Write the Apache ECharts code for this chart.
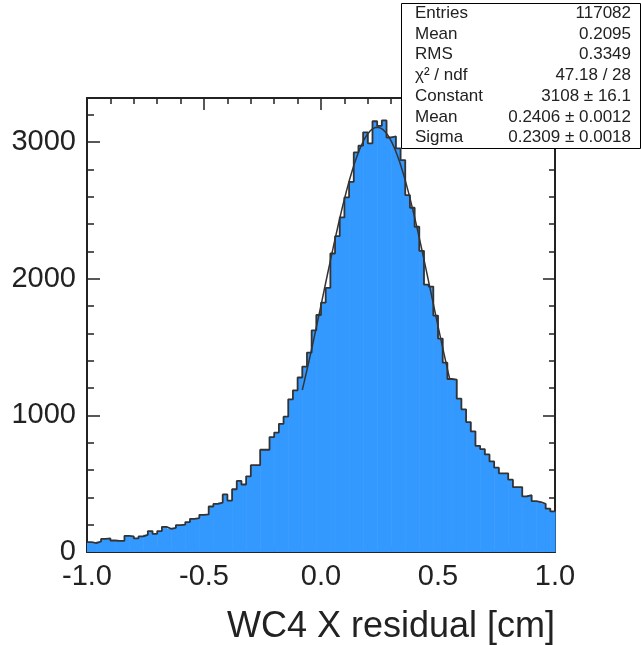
<!DOCTYPE html>
<html><head><meta charset="utf-8">
<script src="https://cdn.jsdelivr.net/npm/echarts@6/dist/echarts.min.js"></script>
<style>html,body{margin:0;padding:0;background:#fff}#c{width:641px;height:645px}</style>
</head><body><div id="c"></div>
<script>
// ---- data ----
const xMin = -1.0, xMax = 1.0, nBins = 100;
const counts = [
  72, 65, 77, 96, 99, 84, 82, 82, 118, 114,
  99, 114, 126, 153, 133, 153, 184, 170, 177, 197,
  201, 219, 243, 248, 272, 275, 333, 352, 362, 421,
  376, 459, 520, 494, 554, 635, 635, 748, 748, 841,
  874, 938, 990, 1117, 1183, 1277, 1357, 1459, 1622, 1734,
  1824, 1933, 2184, 2311, 2448, 2595, 2709, 2924, 2973, 3071,
  2990, 3152, 3118, 3158, 3033, 3042, 2953, 2868, 2612, 2519,
  2380, 2204, 1957, 1942, 1730, 1562, 1385, 1266, 1262, 1122,
  1044, 951, 883, 777, 753, 714, 663, 617, 576, 576,
  529, 475, 475, 407, 416, 372, 365, 353, 317, 297
];
const xTickLabels = ["-1.0", "-0.5", "0.0", "0.5", "1.0"];
const yTickLabels = ["0", "1000", "2000", "3000"];
const statsLabels = ["Entries", "Mean", "RMS", "\u03C7\u00B2 / ndf", "Constant", "Mean", "Sigma"];
const statsValues = ["117082", "0.2095", "0.3349", "47.18 / 28", "3108 \u00B1 16.1", "0.2406 \u00B1 0.0012", "0.2309 \u00B1 0.0018"];
const fitConstant = 3108, fitMean = 0.2406, fitSigma = 0.2309;
const fitRange = [-0.08, 0.55];
const yMax = 3322;
const xTitle = "WC4 X residual [cm]";

// ---- derived ----
const binW = (xMax - xMin) / nBins;
const bins = counts.map((c, i) => [xMin + i * binW, xMin + (i + 1) * binW, c]);
const outline = counts.map((c, i) => [xMin + i * binW, c]);
outline.push([xMax, counts[counts.length - 1]]);
const fit = [];
const nFit = 200;
for (let k = 0; k <= nFit; k++) {
  const x = fitRange[0] + (fitRange[1] - fitRange[0]) * k / nFit;
  fit.push([x, fitConstant * Math.exp(-0.5 * Math.pow((x - fitMean) / fitSigma, 2))]);
}

const ink = '#222';
const FONT = '"Liberation Sans", Arial, Helvetica, sans-serif';
const frameLine = { show: true, onZero: false, lineStyle: { color: ink, width: 2 } };
const noLine = { show: false, onZero: false };

function xAx(pos, labels) {
  return {
    type: 'value', position: pos, min: xMin, max: xMax, interval: 0.5,
    axisLine: frameLine,
    axisTick: { show: true, inside: true, length: 12, lineStyle: { color: ink, width: 1.5 } },
    minorTick: { show: true, splitNumber: 5, length: 6, lineStyle: { color: ink, width: 1.5 } },
    splitLine: { show: false },
    axisLabel: labels ? {
      show: true, margin: 10, fontSize: 29, color: ink, fontFamily: FONT,
      formatter: v => { const i = Math.round((v - xMin) / 0.5); return xTickLabels[i] ?? ''; }
    } : { show: false }
  };
}
function yAx(pos, interval, len, labels, line) {
  return {
    type: 'value', position: pos, min: 0, max: yMax, interval: interval,
    axisLine: line ? frameLine : noLine,
    axisTick: { show: true, inside: true, length: len, lineStyle: { color: ink, width: 1.5 } },
    splitLine: { show: false },
    axisLabel: labels ? {
      show: true, margin: 11, fontSize: 29, color: ink, fontFamily: FONT,
      formatter: v => { const i = Math.round(v / 1000); return (Math.abs(v - i * 1000) < 1e-6 && yTickLabels[i] !== undefined) ? yTickLabels[i] : ''; }
    } : { show: false }
  };
}

const chart = echarts.init(document.getElementById('c'), null, { renderer: 'canvas' });
const statsTop = 3, statsH = 145, lineH = statsH / statsLabels.length;
const graphics = [
  { type: 'rect', z: 100, shape: { x: 401.5, y: statsTop + 0.5, width: 239, height: statsH },
    style: { fill: '#fff', stroke: '#000', lineWidth: 1 } }
];
statsLabels.forEach((t, i) => {
  const cy = statsTop + lineH * (i + 0.5);
  graphics.push({ type: 'text', z: 101, x: 415, y: cy,
    style: { text: t, font: '17px ' + FONT, fill: ink, textAlign: 'left', textVerticalAlign: 'middle' } });
  graphics.push({ type: 'text', z: 101, x: 631, y: cy,
    style: { text: statsValues[i], font: '17px ' + FONT, fill: ink, textAlign: 'right', textVerticalAlign: 'middle' } });
});
graphics.push({ type: 'text', z: 101, x: 555, y: 627,
  style: { text: xTitle, font: '36px ' + FONT, fill: ink, textAlign: 'right', textVerticalAlign: 'middle' } });

chart.setOption({
  animation: false,
  backgroundColor: '#fff',
  grid: { left: 87, right: 86, top: 98, bottom: 93, containLabel: false, outerBoundsMode: 'none' },
  xAxis: [xAx('bottom', true), xAx('top', false)],
  yAxis: [
    yAx('left', 1000, 13, true, true),
    yAx('left', 200, 7, false, false),
    yAx('right', 1000, 12, false, true),
    yAx('right', 200, 6, false, false)
  ],
  series: [
    {
      type: 'custom', xAxisIndex: 0, yAxisIndex: 0, data: bins, z: 1,
      encode: { x: [0, 1], y: 2 },
      renderItem: (params, api) => {
        const p0 = api.coord([api.value(0), api.value(2)]);
        const p1 = api.coord([api.value(1), 0]);
        return { type: 'rect', shape: { x: p0[0], y: p0[1], width: p1[0] - p0[0] + 0.6, height: p1[1] - p0[1] },
          style: { fill: '#3399ff', stroke: null } };
      }
    },
    {
      type: 'line', xAxisIndex: 0, yAxisIndex: 0, data: outline, step: 'end', z: 3,
      symbol: 'none', lineStyle: { color: '#333', width: 1.8 }
    },
    {
      type: 'line', xAxisIndex: 0, yAxisIndex: 0, data: fit, z: 4, smooth: false,
      symbol: 'none', lineStyle: { color: '#333', width: 1.5 }
    }
  ],
  graphic: graphics
});
</script>
</body></html>
